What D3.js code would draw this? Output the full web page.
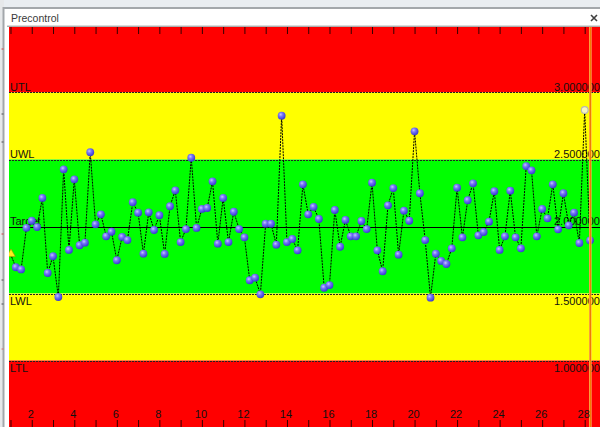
<!DOCTYPE html>
<html>
<head>
<meta charset="utf-8">
<script src="https://cdn.jsdelivr.net/npm/d3@7"></script>
<style>
  html, body { margin: 0; padding: 0; background: #eceff2; }
  svg { display: block; font-family: "Liberation Sans", Arial, sans-serif; }
</style>
</head>
<body>
<svg id="chart" width="600" height="427"></svg>
<script>
// ---- data ----
const title = "Precontrol";
const samplesPerUnit = 4;
const values = [
  1.795, 1.696, 1.680, 1.990, 2.043, 1.996, 2.213, 1.653, 1.778, 1.474,
  2.427, 1.825, 2.352, 1.860, 1.879, 2.554, 2.016, 2.091, 1.927, 1.961,
  1.748, 1.922, 1.899, 2.181, 2.103, 1.797, 2.106, 1.974, 2.084, 1.795,
  2.151, 2.270, 1.884, 1.981, 2.513, 1.989, 2.131, 2.138, 2.337, 1.872,
  2.213, 1.884, 2.110, 1.981, 1.919, 1.599, 1.618, 1.494, 2.021, 2.021,
  1.864, 2.827, 1.884, 1.907, 1.822, 2.315, 2.091, 2.146, 2.056, 1.543,
  1.563, 2.123, 1.849, 2.049, 1.927, 1.927, 2.041, 1.981, 2.327, 1.822,
  1.666, 2.158, 2.287, 1.790, 2.118, 2.043, 2.710, 2.248, 1.899, 1.469,
  1.797, 1.743, 1.720, 1.837, 2.290, 1.919, 2.196, 2.322, 1.934, 1.959,
  2.036, 2.263, 1.825, 1.927, 2.267, 1.919, 1.837, 2.451, 2.419, 1.927,
  2.131, 2.061, 2.315, 1.979, 2.248, 2.009, 2.103, 1.877, 2.869, 1.897
];
const startIndex = 0;          // drawn as yellow triangle
const selectedIndex = 108;     // drawn as hollow marker
const cursorIndex = 109;       // orange cursor line

const limitNames  = ["UTL", "UWL", "Target", "LWL", "LTL"];
const limitValues = [3.0, 2.5, 2.0, 1.5, 1.0];
const limitLabels = ["3.000000", "2.500000", "2.000000", "1.500000", "1.000000"];
const zoneColors  = ["#ff0000", "#ffff00", "#00ff00", "#ffff00", "#ff0000"];

const xTickValues = d3.range(1, 29);
const xTickLabels = [2, 4, 6, 8, 10, 12, 14, 16, 18, 20, 22, 24, 26, 28];

// ---- layout ----
const svg = d3.select("#chart");
const plot = { left: 9, top: 27, right: 600, bottom: 427 };

const x = d3.scaleLinear().domain([0.93, 28.72]).range([plot.left, plot.right]);
const y = d3.scaleLinear().domain([0.5, 3.5]).range([427.5, 25.5]);
const px = i => x(1 + i / samplesPerUnit);

// window chrome
svg.append("rect").attr("x", 0).attr("y", 0).attr("width", 600).attr("height", 8).attr("fill", "#e9edf1");
svg.append("rect").attr("x", 0).attr("y", 0).attr("width", 4).attr("height", 427).attr("fill", "#e6e8ea");
svg.append("rect").attr("x", 3.5).attr("y", 8).attr("width", 600).attr("height", 420)
  .attr("fill", "#ffffff").attr("stroke", "#a3a7ab").attr("stroke-width", 2);
svg.append("line").attr("x1", 7).attr("x2", 600).attr("y1", 26.2).attr("y2", 26.2)
  .attr("stroke", "#8a8a8a").attr("stroke-width", 1);
svg.append("text").attr("x", 11).attr("y", 22).attr("font-size", 10.5).attr("fill", "#3a3a3a").text(title);
// close glyph
svg.append("path").attr("d", "M591,15L597,21M597,15L591,21").attr("stroke", "#404040").attr("stroke-width", 1.6);
// small marks on the background strip
[[49, "#d04040"], [114, "#505050"], [142, "#505050"], [234, "#d04040"], [280, "#505050"], [304, "#505050"], [349, "#d07070"]]
  .forEach(([yy, c]) => svg.append("line").attr("x1", 1.5).attr("x2", 3.5).attr("y1", yy).attr("y2", yy).attr("stroke", c));

// clip
svg.append("clipPath").attr("id", "plotclip").append("rect")
  .attr("x", plot.left).attr("y", plot.top).attr("width", plot.right - plot.left).attr("height", plot.bottom - plot.top);
const g = svg.append("g").attr("clip-path", "url(#plotclip)");

// zones: top -> UTL -> UWL -> LWL -> LTL -> bottom
const bounds = [y.domain()[1], ...limitValues.filter((v, i) => limitNames[i] !== "Target"), y.domain()[0]];
for (let i = 0; i < bounds.length - 1; i++) {
  g.append("rect")
    .attr("x", plot.left).attr("width", plot.right - plot.left)
    .attr("y", y(bounds[i])).attr("height", y(bounds[i + 1]) - y(bounds[i]))
    .attr("fill", zoneColors[i]);
}

// limit lines
limitValues.forEach((v, i) => {
  const isTarget = limitNames[i] === "Target";
  g.append("line")
    .attr("x1", plot.left).attr("x2", plot.right)
    .attr("y1", Math.round(y(v)) + 0.5).attr("y2", Math.round(y(v)) + 0.5)
    .attr("stroke", isTarget ? "#000" : "#222")
    .attr("stroke-width", 1)
    .attr("stroke-dasharray", isTarget ? null : "2,1");
});

// limit labels
limitValues.forEach((v, i) => {
  const below = v < 2.0;
  const yy = below ? y(v) + 11.5 : y(v) - 2;
  g.append("text").attr("x", 10).attr("y", yy).attr("font-size", 11).attr("fill", "#111").text(limitNames[i]);
  g.append("text").attr("x", 554).attr("y", yy).attr("font-size", 11).attr("fill", "#111").text(limitLabels[i]);
});

// top ticks
const topAxis = d3.axisTop(x).tickValues(xTickValues).tickSize(7).tickFormat("");
const ta = g.append("g").attr("transform", `translate(0,${plot.top})`).call(topAxis);
ta.select(".domain").remove();
ta.selectAll("line").attr("stroke", "#300").attr("transform", "translate(0,7)");

// data line
const line = d3.line().x((d, i) => px(i)).y(d => y(d));
g.append("path").datum(values).attr("d", line)
  .attr("fill", "none").attr("stroke", "#000").attr("stroke-width", 1).attr("stroke-dasharray", "2,1");

// marker gradient
const defs = svg.append("defs");
const grad = defs.append("radialGradient").attr("id", "ball").attr("cx", "38%").attr("cy", "35%").attr("r", "65%");
grad.append("stop").attr("offset", "0%").attr("stop-color", "#c4c4ff");
grad.append("stop").attr("offset", "40%").attr("stop-color", "#7676f6");
grad.append("stop").attr("offset", "100%").attr("stop-color", "#3a3ad2");

g.selectAll("circle.pt").data(values.map((v, i) => ({ v, i })).filter(d => d.i !== startIndex && d.i !== selectedIndex))
  .enter().append("circle").attr("class", "pt")
  .attr("cx", d => px(d.i)).attr("cy", d => y(d.v)).attr("r", 3.9)
  .attr("fill", "url(#ball)");

// start marker
g.append("path").attr("d", d3.symbol().type(d3.symbolTriangle).size(32)())
  .attr("transform", `translate(${px(startIndex) + 0.5},${y(values[startIndex])})`)
  .attr("fill", "#ffee20").attr("stroke", "#b09000").attr("stroke-width", 0.6);

// selected marker
g.append("circle").attr("cx", px(selectedIndex)).attr("cy", y(values[selectedIndex])).attr("r", 3.4)
  .attr("fill", "#f6f6c0").attr("stroke", "#b8b8b8").attr("stroke-width", 1.2);

// cursor
g.append("rect").attr("x", px(cursorIndex) - 1.0).attr("y", plot.top).attr("width", 2.6).attr("height", plot.bottom - plot.top)
  .attr("fill", "#ffb35a");
g.append("line").attr("x1", px(cursorIndex) + 0.3).attr("x2", px(cursorIndex) + 0.3)
  .attr("y1", plot.top).attr("y2", plot.bottom).attr("stroke", "#f07800").attr("stroke-width", 1.3);

// bottom ticks and labels
const botAxis = d3.axisBottom(x).tickValues(xTickValues).tickSize(7)
  .tickFormat(d => xTickLabels.includes(d) ? d : "");
const ba = g.append("g").attr("transform", `translate(0,${plot.bottom - 7})`).call(botAxis);
ba.select(".domain").remove();
ba.selectAll("line").attr("stroke", "#300");
ba.selectAll("text").attr("x", -1.5).attr("y", -2).attr("dy", 0).attr("font-size", 11)
  .attr("font-family", "Liberation Sans, Arial, sans-serif").attr("fill", "#111");
</script>
</body>
</html>
